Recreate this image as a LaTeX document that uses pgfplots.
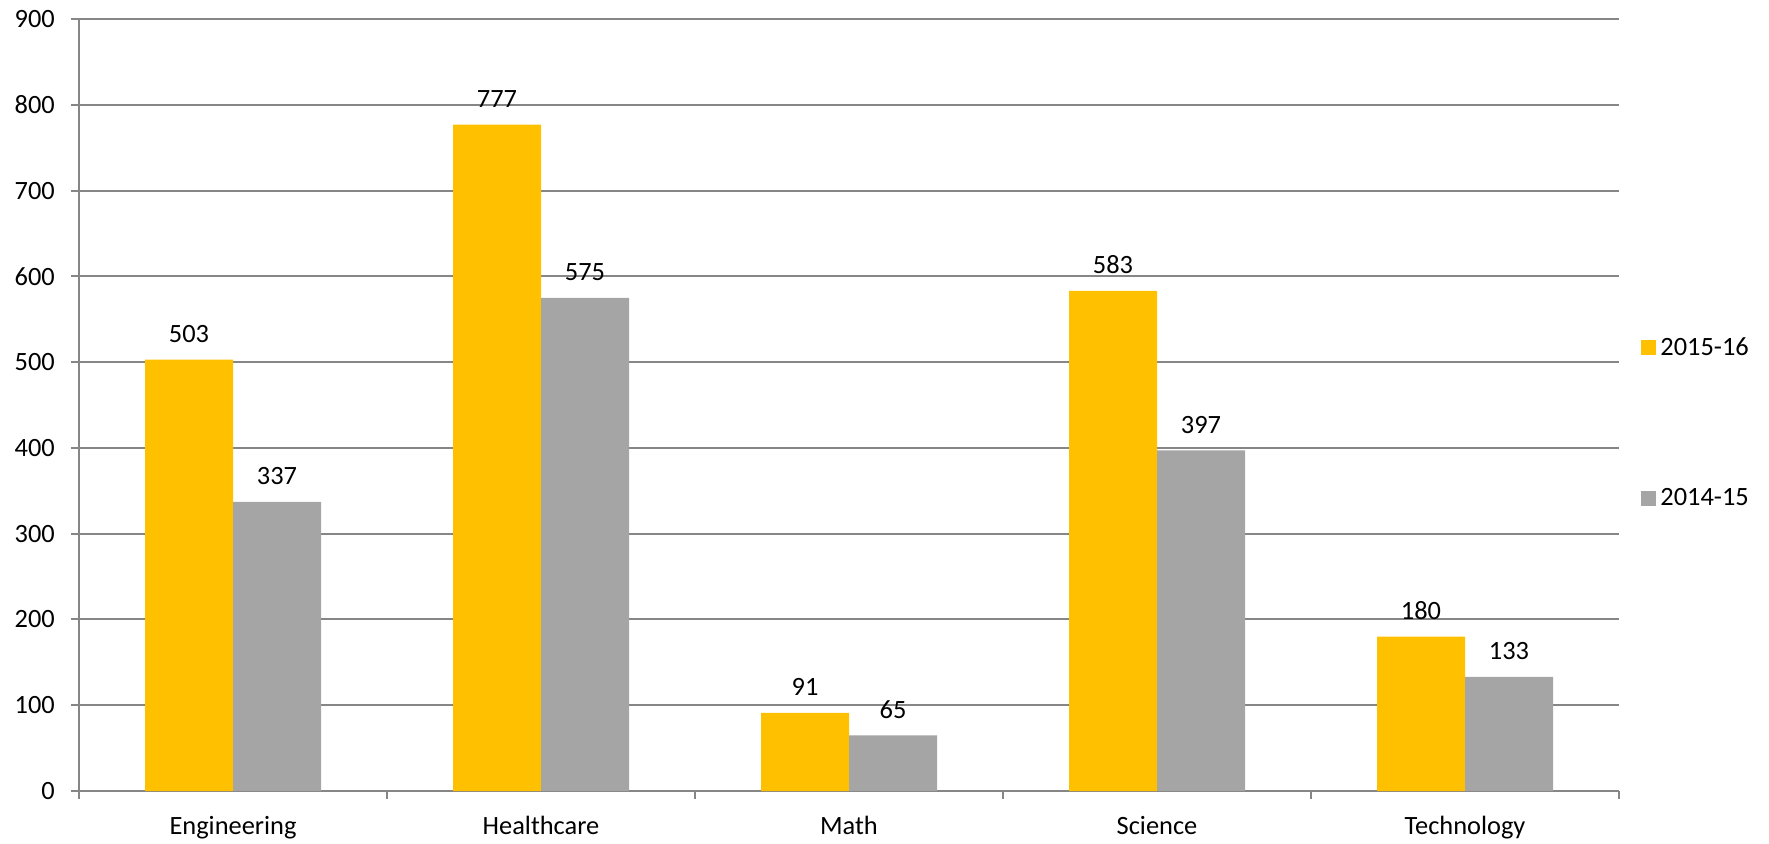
\documentclass[border=0pt]{standalone}
\usepackage{pgfplots}
\pgfplotsset{compat=1.18}
\usepackage{fontspec}
\setmainfont{Carlito}
\definecolor{barorange}{HTML}{FFC000}
\definecolor{bargray}{HTML}{A5A5A5}
\definecolor{axisgray}{HTML}{868686}
\newcommand{\chartfont}{\fontsize{13.2bp}{15.8bp}\selectfont}
\begin{document}
\begin{tikzpicture}
\begin{axis}[
  name=ax,
  scale only axis, width=770bp, height=386bp,
  xmin=-0.5, xmax=4.5, ymin=0, ymax=900,
  axis x line*=bottom, axis y line*=left,
  axis line style={axisgray, line width=1bp, -},
  ybar=0pt, bar width=44bp,
  ytick={0,100,...,900},
  ymajorgrids, grid style={axisgray, line width=1bp},
  tick style={axisgray, line width=1bp},
  tick align=outside, major tick length=4bp,
  xtick={-0.5,0.5,1.5,2.5,3.5,4.5}, xticklabels={},
  extra x ticks={0,1,2,3,4},
  extra x tick labels={Engineering,Healthcare,Math,Science,Technology},
  extra x tick style={major tick length=0pt, grid=none,
    tick label style={inner sep=0pt, yshift=-12.5bp}},
  /pgf/number format/assume math mode=true,
  tick label style={font=\chartfont, black},
  yticklabel style={xshift=-4.6bp},
  nodes near coords,
  every node near coord/.append style={font=\chartfont, black, yshift=5bp},
  legend style={draw=none, fill=none, at={(1,0.477)}, anchor=west,
    xshift=11bp, font=\chartfont, row sep=61bp, inner sep=0pt},
  legend cell align=left,
]
\addplot[fill=barorange, draw=none,
  legend image code/.code={\fill[barorange] (0bp,-3.75bp) rectangle (7.5bp,3.75bp);}]
  coordinates {(0,503) (1,777) (2,91) (3,583) (4,180)};
\addplot[fill=bargray, draw=none,
  legend image code/.code={\fill[bargray] (0bp,-3.75bp) rectangle (7.5bp,3.75bp);}]
  coordinates {(0,337) (1,575) (2,65) (3,397) (4,133)};
\legend{2015-16, 2014-15}
\end{axis}
\path ([xshift=-39.5bp,yshift=-26bp]ax.south west) rectangle ([xshift=75bp,yshift=9.5bp]ax.north east);
\end{tikzpicture}
\end{document}
